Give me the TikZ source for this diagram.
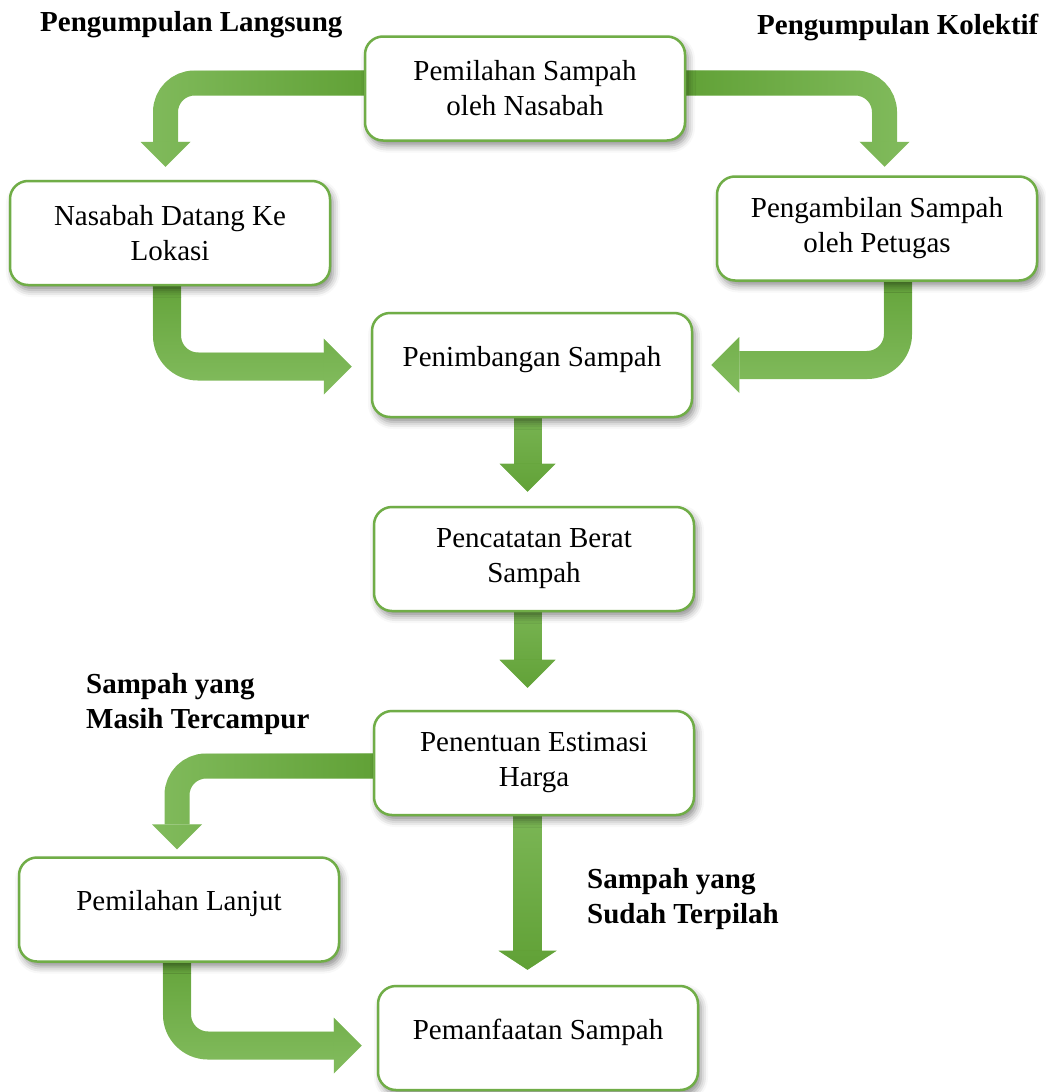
\documentclass[tikz,border=0pt]{standalone}
\usepackage{fontspec}
\setmainfont{Liberation Serif}
\usetikzlibrary{arrows.meta,shadows.blur,fadings}

\definecolor{boxgreen}{HTML}{70AD47}
\definecolor{flowlight}{HTML}{80BA5B}
\definecolor{flowdark}{HTML}{5E9F33}

\pgfdeclarelayer{back}
\pgfsetlayers{back,main}

\newcommand\boxfont{\fontsize{29}{35}\selectfont}
\newcommand\labelfont{\fontsize{29}{35}\selectfont\bfseries}

% a thick green block arrow: light stroke, then a darker copy that fades out
\newcommand\greenflow[3]{%
  \draw[#1, draw=flowlight] #3;
  \draw[#1, draw=flowdark, path fading=#2] #3;
}

\tikzset{
  stepbox/.style={draw=boxgreen, line width=2.5pt, fill=white,
    rounded corners=18pt, minimum width=320pt, minimum height=104pt,
    align=center, font=\boxfont, inner sep=0pt,
    blur shadow={shadow xshift=3pt, shadow yshift=-5pt,
      shadow blur radius=7pt, shadow opacity=45}},
  % single-line text sits a little above the middle of its box
  onelinebox/.style={stepbox, text height=20pt, text depth=18pt},
  flowthin/.style={line width=25pt, rounded corners=29pt,
    -{Triangle[length=25pt,width=50pt,line width=0pt]}},
  flowthick/.style={line width=28pt, rounded corners=31pt,
    -{Triangle[length=28pt,width=56pt,line width=0pt]}},
  flowflat/.style={line width=29pt,
    -{Triangle[length=19pt,width=58pt,line width=0pt]}},
  grouplabel/.style={font=\labelfont, align=left, inner sep=0pt},
}

\begin{document}
\begin{tikzpicture}[x=1pt,y=-1pt]
\useasboundingbox (0,0) rectangle (1046,1092);

% process steps
\node[stepbox] (p1) at (525,88.5) {Pemilahan Sampah\\oleh Nasabah};
\node[stepbox] (n1) at (170,233) {Nasabah Datang Ke\\Lokasi};
\node[stepbox] (k1) at (877,228.5) {Pengambilan Sampah\\oleh Petugas};
\node[onelinebox] (t1) at (532,365) {Penimbangan Sampah};
\node[stepbox] (c1) at (534,559) {Pencatatan Berat\\Sampah};
\node[stepbox] (e1) at (534,763) {Penentuan Estimasi\\Harga};
\node[onelinebox] (l1) at (179,909.5) {Pemilahan Lanjut};
\node[onelinebox] (m1) at (538,1038) {Pemanfaatan Sampah};

% group labels
\node[grouplabel, anchor=base west] (gl) at (40,31) {Pengumpulan Langsung};
\node[grouplabel, anchor=base west] (gk) at (757,34) {Pengumpulan Kolektif};
\node[grouplabel, anchor=west] (gm) at (86,704) {Sampah yang\\Masih Tercampur};
\node[grouplabel, anchor=west] (gs) at (587,899.5) {Sampah yang\\Sudah Terpilah};

% connectors behind the boxes
\begin{pgfonlayer}{back}
\greenflow{flowthin}{west}{([xshift=12pt,yshift=5.5pt]p1.west) -| ([xshift=-4.5pt,yshift=13pt]n1.north)}
\greenflow{flowthin}{east}{([xshift=-12pt,yshift=5.5pt]p1.east) -| ([xshift=7.5pt,yshift=8.5pt]k1.north)}
\greenflow{flowthick}{south}{([xshift=-3pt,yshift=12pt]n1.south) |- ([xshift=-19pt,yshift=-1.5pt]t1.west)}
\greenflow{flowthick}{south}{([xshift=21pt,yshift=12pt]k1.south) |- ([xshift=18pt]t1.east)}
\greenflow{flowthick}{north}{([xshift=-4.5pt,yshift=12pt]t1.south) -- ([xshift=-6.5pt,yshift=14pt]c1.north)}
\greenflow{flowthick}{north}{([xshift=-6.5pt,yshift=12pt]c1.south) -- ([xshift=-6.5pt,yshift=22pt]e1.north)}
\greenflow{flowthin}{west}{([xshift=12pt,yshift=-3pt]e1.west) -| ([xshift=-2pt,yshift=7pt]l1.north)}
\greenflow{flowflat}{north}{([xshift=-6.5pt,yshift=12pt]e1.south) -- ([xshift=-10.5pt,yshift=15pt]m1.north)}
\greenflow{flowthick}{south}{([xshift=-2pt,yshift=12pt]l1.south) |- ([xshift=-15pt,yshift=-7.5pt]m1.west)}
\end{pgfonlayer}
\end{tikzpicture}
\end{document}
